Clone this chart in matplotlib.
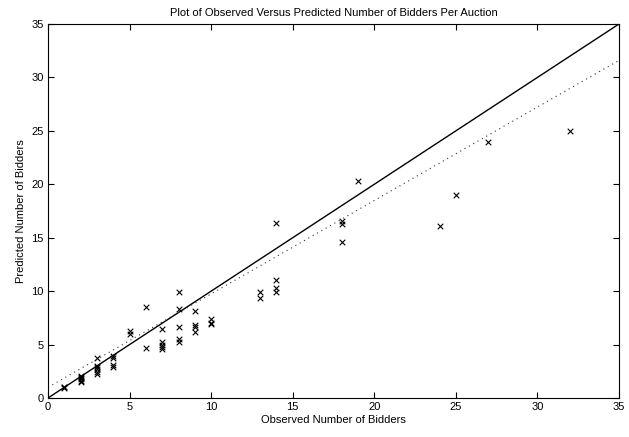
import numpy as np
import matplotlib
matplotlib.use('Agg')
import matplotlib.pyplot as plt

# observed vs predicted bidders
observed = [1, 1, 1,
            2, 2, 2, 2, 2, 2,
            3, 3, 3, 3, 3, 3,
            4, 4, 4, 4,
            5, 5,
            6, 6,
            7, 7, 7, 7, 7,
            8, 8, 8, 8, 8,
            9, 9, 9, 9,
            10, 10, 10,
            13, 13,
            14, 14, 14, 14,
            18, 18, 18,
            19, 24, 25, 27, 32]
predicted = [1.0, 1.05, 0.95,
             1.5, 1.6, 1.75, 1.9, 2.0, 2.1,
             2.2, 2.4, 2.7, 2.9, 3.0, 3.7,
             2.9, 3.1, 3.7, 3.9,
             6.0, 6.3,
             4.7, 8.5,
             4.6, 4.8, 5.0, 5.2, 6.5,
             5.2, 5.5, 6.6, 8.3, 9.9,
             6.2, 6.6, 6.8, 8.1,
             6.9, 7.0, 7.4,
             9.4, 9.9,
             9.9, 10.3, 11.0, 16.4,
             14.6, 16.3, 16.6,
             20.3, 16.1, 19.0, 24.0, 25.0]

# fitted line (dotted) endpoints
fit_x = [0, 35]
fit_y = [1.0, 31.6]

plt.rcParams['font.family'] = ['Liberation Sans', 'DejaVu Sans']

fig = plt.figure(figsize=(6.29, 4.37), dpi=100)
ax = fig.add_axes([48/629, 39/437, 571/629, 374/437])

ax.plot([0, 35], [0, 35], color='black', linewidth=1.0)
ax.plot(fit_x, fit_y, color='#333333', linestyle=(0, (1, 3.5)), linewidth=0.8)
ax.scatter(observed, predicted, marker='x', color='black', s=16, linewidths=0.8)

ax.set_xlim(0, 35)
ax.set_ylim(0, 35)
ax.set_xticks(range(0, 36, 5))
ax.set_yticks(range(0, 36, 5))
ax.tick_params(direction='in', top=True, right=True, labelsize=8, length=4, width=0.8, pad=3)
for s in ax.spines.values():
    s.set_linewidth(0.8)

ax.set_xlabel('Observed Number of Bidders', fontsize=8, labelpad=2)
ax.set_ylabel('Predicted Number of Bidders', fontsize=8, labelpad=4)
ax.set_title('Plot of Observed Versus Predicted Number of Bidders Per Auction', fontsize=8, pad=6)

fig.savefig('out.png', dpi=100)
